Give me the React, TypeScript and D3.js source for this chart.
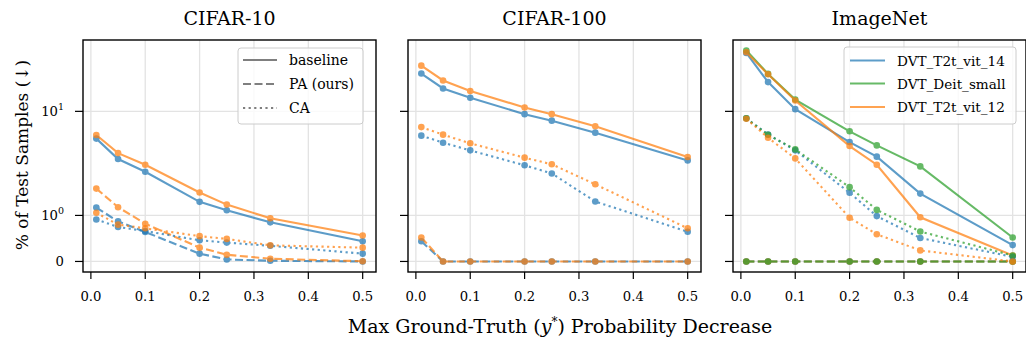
import React from "react";
import * as d3 from "d3";

// ---------- data ----------
const xs = [0.01, 0.05, 0.1, 0.2, 0.25, 0.33, 0.5];
const xTicks = [0.0, 0.1, 0.2, 0.3, 0.4, 0.5];

// CIFAR-10
const c10BaseBlue = [5.47, 3.48, 2.63, 1.35, 1.12, 0.85, 0.44];
const c10BaseOrange = [5.92, 3.97, 3.07, 1.66, 1.27, 0.94, 0.565];
const c10PABlue = [1.19, 0.87, 0.64, 0.17, 0.044, 0.015, 0.0];
const c10PAOrange = [1.81, 1.2, 0.82, 0.3, 0.146, 0.059, 0.005];
const c10CABlue = [0.91, 0.75, 0.66, 0.46, 0.41, 0.34, 0.17];
const c10CAOrange = [1.06, 0.8, 0.72, 0.55, 0.49, 0.35, 0.3];

// CIFAR-100
const c100BaseBlue = [23.1, 16.6, 13.5, 9.4, 8.14, 6.24, 3.38];
const c100BaseOrange = [27.5, 19.8, 15.7, 10.9, 9.4, 7.2, 3.64];
const c100PABlue = [0.44, 0, 0, 0, 0, 0, 0];
const c100PAOrange = [0.52, 0, 0, 0, 0, 0, 0];
const c100CABlue = [5.84, 5.0, 4.22, 3.03, 2.53, 1.36, 0.645];
const c100CAOrange = [7.06, 5.97, 4.93, 3.59, 3.1, 1.99, 0.72];

// ImageNet
const inBaseBlue = [36.4, 19.1, 10.5, 5.07, 3.67, 1.62, 0.355];
const inBaseGreen = [38.4, 22.9, 12.97, 6.43, 4.71, 2.96, 0.52];
const inBaseOrange = [37.0, 22.7, 12.7, 4.64, 3.07, 0.96, 0.13];
const inPABlue = [0, 0, 0, 0, 0, 0, 0];
const inPAGreen = [0, 0, 0, 0, 0, 0, 0];
const inPAOrange = [0, 0, 0, 0, 0, 0, 0];
const inCABlue = [8.57, 6.0, 4.22, 1.65, 0.985, 0.51, 0.1];
const inCAGreen = [8.57, 5.95, 4.31, 1.87, 1.13, 0.65, 0.13];
const inCAOrange = [8.5, 5.58, 3.53, 0.95, 0.59, 0.24, 0.0];

const titles = ["CIFAR-10", "CIFAR-100", "ImageNet"];
const styleLabels = ["baseline", "PA (ours)", "CA"];
const modelLabels = ["DVT_T2t_vit_14", "DVT_Deit_small", "DVT_T2t_vit_12"];

const BLUE = "#1f77b4";
const ORANGE = "#ff7f0e";
const GREEN = "#2ca02c";

type Series = { values: number[]; color: string; style: "solid" | "dashed" | "dotted" };

const panels: Series[][] = [
  [
    { values: c10BaseBlue, color: BLUE, style: "solid" },
    { values: c10BaseOrange, color: ORANGE, style: "solid" },
    { values: c10PABlue, color: BLUE, style: "dashed" },
    { values: c10PAOrange, color: ORANGE, style: "dashed" },
    { values: c10CABlue, color: BLUE, style: "dotted" },
    { values: c10CAOrange, color: ORANGE, style: "dotted" },
  ],
  [
    { values: c100BaseBlue, color: BLUE, style: "solid" },
    { values: c100BaseOrange, color: ORANGE, style: "solid" },
    { values: c100PABlue, color: BLUE, style: "dashed" },
    { values: c100PAOrange, color: ORANGE, style: "dashed" },
    { values: c100CABlue, color: BLUE, style: "dotted" },
    { values: c100CAOrange, color: ORANGE, style: "dotted" },
  ],
  [
    { values: inBaseBlue, color: BLUE, style: "solid" },
    { values: inBaseGreen, color: GREEN, style: "solid" },
    { values: inBaseOrange, color: ORANGE, style: "solid" },
    { values: inPABlue, color: BLUE, style: "dashed" },
    { values: inPAOrange, color: ORANGE, style: "dashed" },
    { values: inPAGreen, color: GREEN, style: "dashed" },
    { values: inCABlue, color: BLUE, style: "dotted" },
    { values: inCAGreen, color: GREEN, style: "dotted" },
    { values: inCAOrange, color: ORANGE, style: "dotted" },
  ],
];

// ---------- layout ----------
const W = 1026;
const H = 343;
const panelLeft = [83, 408, 733];
const panelW = 293;
const top = 40;
const bottom = 272;
const FONT = "'DejaVu Serif', 'Liberation Serif', serif";

// symlog transform (linthresh=1, linscale≈0.4)
const LIN = 0.4423;
const symT = (v: number) => (v <= 1 ? v * LIN : LIN + Math.log10(v));
const tMaxData = symT(38.4);
const yLin = d3
  .scaleLinear()
  .domain([-0.05 * tMaxData, tMaxData * 1.05])
  .range([bottom, top]);
const yPos = (v: number) => yLin(symT(v));
const yTicks = [
  { v: 0, base: "0", sup: "" },
  { v: 1, base: "10", sup: "0" },
  { v: 10, base: "10", sup: "1" },
];

const dashOf = (s: string) => (s === "dashed" ? "8 3.5" : s === "dotted" ? "2.2 3.4" : undefined);

function Panel({ idx }: { idx: number }) {
  const left = panelLeft[idx];
  const x = d3
    .scaleLinear()
    .domain([0.01 - 0.0245, 0.5 + 0.0245])
    .range([left, left + panelW]);
  const line = d3
    .line<number>()
    .x((_, i) => x(xs[i]))
    .y((v) => yPos(v));
  const series = panels[idx];
  return (
    <g>
      {xTicks.map((t) => (
        <line key={"gx" + t} x1={x(t)} x2={x(t)} y1={top} y2={bottom} stroke="#e3e3e3" strokeWidth={1.3} />
      ))}
      {yTicks.map((t) => (
        <line key={"gy" + t.v} x1={left} x2={left + panelW} y1={yPos(t.v)} y2={yPos(t.v)} stroke="#e3e3e3" strokeWidth={1.3} />
      ))}
      {series.map((s, i) => (
        <g key={i} opacity={0.72}>
          <path d={line(s.values) || ""} fill="none" stroke={s.color} strokeWidth={2.1} strokeDasharray={dashOf(s.style)} />
          {s.values.map((v, j) => (
            <circle key={j} cx={x(xs[j])} cy={yPos(v)} r={3.3} fill={s.color} />
          ))}
        </g>
      ))}
      <rect x={left} y={top} width={panelW} height={bottom - top} fill="none" stroke="#000" strokeWidth={1.4} />
      {xTicks.map((t) => (
        <g key={"xt" + t}>
          <line x1={x(t)} x2={x(t)} y1={bottom} y2={bottom + 7} stroke="#000" strokeWidth={1.2} />
          <text x={x(t)} y={bottom + 29} textAnchor="middle" fontSize={13.2} fontFamily={FONT}>
            {t.toFixed(1)}
          </text>
        </g>
      ))}
      {yTicks.map((t) => (
        <g key={"yt" + t.v}>
          <line x1={left - 8} x2={left} y1={yPos(t.v)} y2={yPos(t.v)} stroke="#000" strokeWidth={1.2} />
          {idx === 0 && (
            <text x={left - 19} y={yPos(t.v) + 5} textAnchor="end" fontSize={13.2} fontFamily={FONT}>
              {t.base}
              {t.sup && (
                <tspan dy={-6} fontSize={9.5}>
                  {t.sup}
                </tspan>
              )}
            </text>
          )}
        </g>
      ))}
      <text x={left + panelW / 2} y={25} textAnchor="middle" fontSize={19} fontFamily={FONT}>
        {titles[idx]}
      </text>
    </g>
  );
}

function StyleLegend() {
  const rows = [60, 84, 108];
  const styles = ["solid", "dashed", "dotted"];
  return (
    <g>
      <rect x={238} y={48} width={125} height={76} rx={3} fill="#fff" fillOpacity={0.8} stroke="#cccccc" strokeWidth={1} />
      {styleLabels.map((l, i) => (
        <g key={l}>
          <line x1={243} x2={277} y1={rows[i]} y2={rows[i]} stroke="#7f7f7f" strokeWidth={2.1} strokeDasharray={dashOf(styles[i])} />
          <text x={289} y={rows[i] + 5} fontSize={14} fontFamily={FONT}>
            {l}
          </text>
        </g>
      ))}
    </g>
  );
}

function ModelLegend() {
  const rows = [60.5, 83.5, 107];
  const colors = [BLUE, GREEN, ORANGE];
  return (
    <g>
      <rect x={844} y={47} width={172} height={77} rx={3} fill="#fff" fillOpacity={0.8} stroke="#cccccc" strokeWidth={1} />
      {modelLabels.map((l, i) => (
        <g key={l}>
          <line x1={850} x2={885} y1={rows[i]} y2={rows[i]} stroke={colors[i]} strokeOpacity={0.72} strokeWidth={2.1} />
          <text x={897} y={rows[i] + 5} fontSize={13.6} fontFamily={FONT}>
            {l}
          </text>
        </g>
      ))}
    </g>
  );
}

export default function App() {
  return (
    <svg width={W} height={H} style={{ position: "absolute", left: 0, top: 0, background: "#fff" }}>
      <rect x={0} y={0} width={W} height={H} fill="#fff" />
      {[0, 1, 2].map((i) => (
        <Panel key={i} idx={i} />
      ))}
      <StyleLegend />
      <ModelLegend />
      <text x={560} y={333} textAnchor="middle" fontSize={19} fontFamily={FONT}>
        Max Ground-Truth (<tspan fontStyle="italic">y</tspan>
        <tspan dy={-7} fontSize={12}>*</tspan>
        <tspan dy={7}>) Probability Decrease</tspan>
      </text>
      <text transform="translate(28, 155) rotate(-90)" textAnchor="middle" fontSize={17} fontFamily={FONT}>
        % of Test Samples (↓)
      </text>
    </svg>
  );
}
